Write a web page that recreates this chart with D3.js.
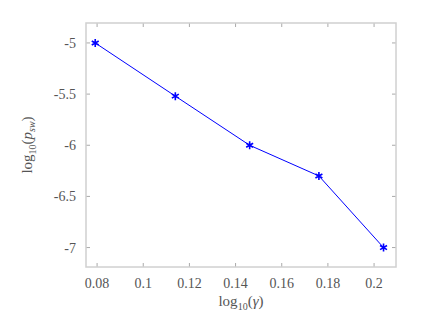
<!DOCTYPE html>
<html>
<head>
<meta charset="utf-8">
<script src="https://cdn.jsdelivr.net/npm/d3@7"></script>
<style>
  body { margin: 0; background: #fff; }
  svg text, svg tspan { font-family: "Liberation Serif", "Times New Roman", serif !important; }
</style>
</head>
<body>
<div id="chart"></div>
<script>
// values
const logGamma = [0.0792, 0.1139, 0.1461, 0.1761, 0.2041];
const logPsw = [-5.0, -5.52, -6.0, -6.30, -7.0];
const xTicks = [0.08, 0.1, 0.12, 0.14, 0.16, 0.18, 0.2];
const yTicks = [-5, -5.5, -6, -6.5, -7];

const margin = { top: 23, right: 40, bottom: 44, left: 86 },
  width = 436 - margin.left - margin.right,
  height = 311 - margin.top - margin.bottom;

const serif = "Liberation Serif";

const svg = d3.select("#chart")
  .append("svg")
  .attr("width", 436)
  .attr("height", 311)
  .attr("font-family", serif)
  .append("g")
  .attr("transform", `translate(${margin.left},${margin.top})`);

const x = d3.scaleLinear().domain([0.0752, 0.2095]).range([0, width]);
const y = d3.scaleLinear().domain([-7.19, -4.805]).range([height, 0]);

const fmt = d => String(d);
const tickLen = 4;

// ticks, inside the box on all four sides
const tk = svg.append("g").attr("stroke", "#aaa").attr("stroke-width", 1);
xTicks.forEach(t => {
  tk.append("line").attr("x1", x(t)).attr("x2", x(t)).attr("y1", height).attr("y2", height - tickLen);
  tk.append("line").attr("x1", x(t)).attr("x2", x(t)).attr("y1", 0).attr("y2", tickLen);
});
yTicks.forEach(t => {
  tk.append("line").attr("x1", 0).attr("x2", tickLen).attr("y1", y(t)).attr("y2", y(t));
  tk.append("line").attr("x1", width).attr("x2", width - tickLen).attr("y1", y(t)).attr("y2", y(t));
});

// frame
svg.append("rect")
  .attr("width", width)
  .attr("height", height)
  .attr("fill", "none")
  .attr("stroke", "#d0d0d0")
  .attr("stroke-width", 1.5);

// tick labels
svg.selectAll(".xl").data(xTicks).join("text")
  .attr("x", d => x(d))
  .attr("y", height + 21)
  .attr("text-anchor", "middle")
  .attr("fill", "#555")
  .attr("font-family", serif)
  .attr("font-size", 14)
  .text(fmt);

svg.selectAll(".yl").data(yTicks).join("text")
  .attr("x", -10)
  .attr("y", d => y(d) + 5)
  .attr("text-anchor", "end")
  .attr("fill", "#555")
  .attr("font-family", serif)
  .attr("font-size", 14)
  .text(fmt);

// line + markers
const pts = logGamma.map((g, i) => [g, logPsw[i]]);
svg.append("path")
  .datum(pts)
  .attr("fill", "none")
  .attr("stroke", "#0000ff")
  .attr("stroke-width", 1)
  .attr("d", d3.line().x(d => x(d[0])).y(d => y(d[1])));

const star = d3.symbol().type(d3.symbolAsterisk).size(45);
svg.selectAll(".pt").data(pts).join("path")
  .attr("transform", d => `translate(${x(d[0])},${y(d[1])})`)
  .attr("d", star)
  .attr("fill", "none")
  .attr("stroke", "#0000ff")
  .attr("stroke-width", 1.6);

// axis labels
const xl = svg.append("text")
  .attr("x", width / 2)
  .attr("y", height + 39)
  .attr("text-anchor", "middle")
  .attr("fill", "#555")
  .attr("font-family", serif)
  .attr("font-size", 15);
xl.append("tspan").text("log");
xl.append("tspan").attr("dy", 4).attr("font-size", 10).text("10");
xl.append("tspan").attr("dy", -4).text("(");
xl.append("tspan").attr("font-style", "italic").text("γ");
xl.append("tspan").text(")");

const yl = svg.append("text")
  .attr("transform", `translate(${-54},${height / 2}) rotate(-90)`)
  .attr("text-anchor", "middle")
  .attr("fill", "#555")
  .attr("font-family", serif)
  .attr("font-size", 15);
yl.append("tspan").text("log");
yl.append("tspan").attr("dy", 4).attr("font-size", 10).text("10");
yl.append("tspan").attr("dy", -4).text("(");
yl.append("tspan").attr("font-style", "italic").text("p");
yl.append("tspan").attr("dy", 3).attr("font-size", 10).attr("font-style", "italic").text("sw");
yl.append("tspan").attr("dy", -3).text(")");
</script>
</body>
</html>
